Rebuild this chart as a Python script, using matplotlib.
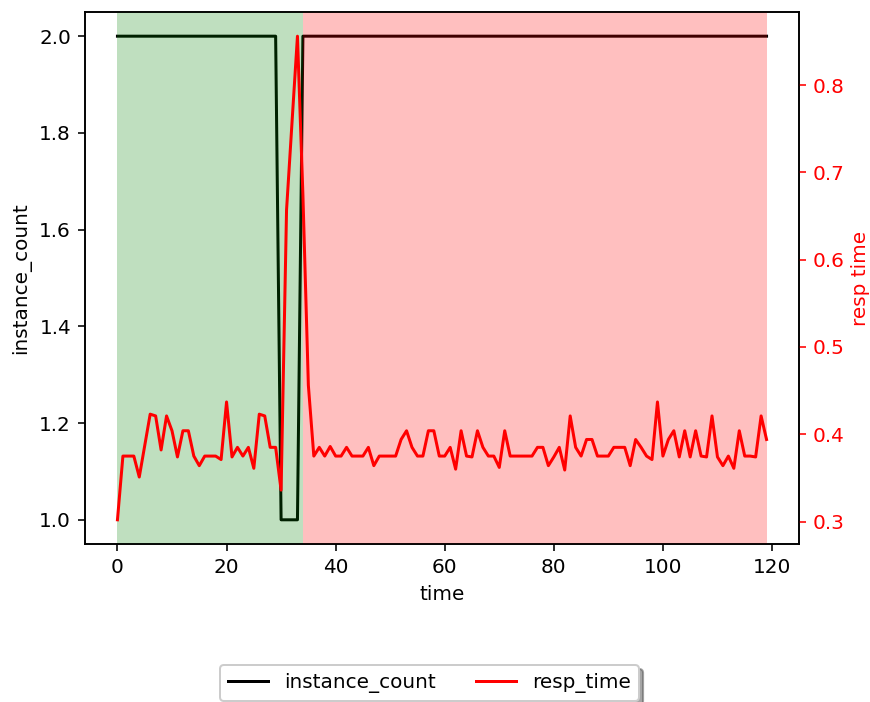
import numpy as np
import matplotlib
matplotlib.use("Agg")
import matplotlib.pyplot as plt

# data
time = np.arange(120)

instance_count = [2] * 30 + [1] * 4 + [2] * 86

resp_time = [
    0.302, 0.375, 0.375, 0.375, 0.351, 0.387, 0.423, 0.421, 0.382, 0.421,
    0.404, 0.374, 0.404, 0.404, 0.375, 0.364, 0.375, 0.375, 0.375, 0.371,
    0.437, 0.374, 0.385, 0.375, 0.385, 0.361, 0.423, 0.421, 0.385, 0.385,
    0.336, 0.657, 0.757, 0.856, 0.674, 0.456, 0.375, 0.385, 0.375, 0.386,
    0.375, 0.375, 0.385, 0.375, 0.375, 0.375, 0.385, 0.364, 0.375, 0.375,
    0.375, 0.375, 0.394, 0.404, 0.385, 0.375, 0.375, 0.404, 0.404, 0.375,
    0.375, 0.385, 0.360, 0.404, 0.375, 0.374, 0.404, 0.385, 0.375, 0.375,
    0.362, 0.404, 0.375, 0.375, 0.375, 0.375, 0.375, 0.385, 0.385, 0.364,
    0.374, 0.385, 0.359, 0.421, 0.385, 0.375, 0.394, 0.394, 0.375, 0.375,
    0.375, 0.385, 0.385, 0.385, 0.364, 0.394, 0.385, 0.375, 0.371, 0.437,
    0.375, 0.394, 0.404, 0.374, 0.404, 0.374, 0.404, 0.375, 0.374, 0.421,
    0.374, 0.364, 0.375, 0.361, 0.404, 0.375, 0.375, 0.374, 0.421, 0.394,
]

# phases shaded in the background
phase_start = [0, 34]
phase_end = [34, 119]
phase_color = ['green', 'red']

fig = plt.figure(figsize=(870 / 144, 702 / 144), dpi=144)
ax = fig.add_axes([0.0977, 0.2251, 0.8207, 0.7578])

l1, = ax.plot(time, instance_count, color='black', label='instance_count')
ax.set_xlabel('time')
ax.set_ylabel('instance_count')

ax2 = ax.twinx()
for s, e, c in zip(phase_start, phase_end, phase_color):
    ax2.axvspan(s, e, color=c, alpha=0.25, linewidth=0)
l2, = ax2.plot(time, resp_time, color='red', label='resp_time')
ax2.set_ylabel('resp time', color='red', labelpad=3)
ax2.tick_params(axis='y', colors='red')

fig.legend(handles=[l1, l2], loc='upper center', bbox_to_anchor=(0.494, 0.067),
           ncol=2, fancybox=True, shadow=True)

fig.savefig('out.png', dpi=144)
